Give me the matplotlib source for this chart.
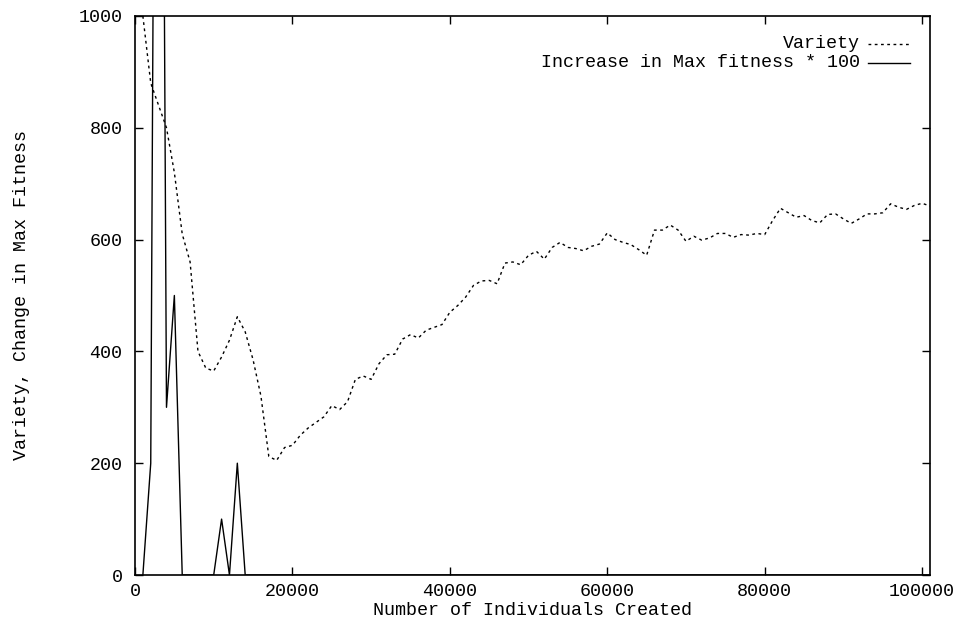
import matplotlib
matplotlib.use("Agg")
import matplotlib.pyplot as plt

# sampling grid: one point every 1000 individuals
individuals = list(range(1000, 102000, 1000))

variety = [
    1000, 880, 840, 800, 720, 610, 560, 400, 370, 365,
    390, 420, 462, 435, 385, 320, 212, 205, 228, 232,
    250, 263, 273, 283, 303, 296, 310, 350, 356, 350,
    378, 394, 395, 422, 430, 424, 438, 443, 448, 470,
    482, 497, 518, 526, 527, 521, 558, 560, 555, 572,
    579, 565, 586, 595, 586, 584, 580, 588, 592, 612,
    600, 595, 591, 582, 572, 617, 617, 626, 617, 597,
    606, 599, 603, 611, 611, 604, 609, 608, 611, 609,
    634, 656, 648, 640, 643, 634, 630, 645, 646, 637,
    629, 637, 646, 646, 648, 664, 658, 654, 661, 665,
    660,
]

# increase in max fitness * 100
fitness_gain = [
    0, 200, 3000, 300, 500, 0, 0, 0, 0, 0,
    100, 0, 200, 0, 0, 0, 0, 0, 0, 0,
    0, 0, 0, 0, 0, 0, 0, 0, 0, 0,
    0, 0, 0, 0, 0, 0, 0, 0, 0, 0,
    0, 0, 0, 0, 0, 0, 0, 0, 0, 0,
    0, 0, 0, 0, 0, 0, 0, 0, 0, 0,
    0, 0, 0, 0, 0, 0, 0, 0, 0, 0,
    0, 0, 0, 0, 0, 0, 0, 0, 0, 0,
    0, 0, 0, 0, 0, 0, 0, 0, 0, 0,
    0, 0, 0, 0, 0, 0, 0, 0, 0, 0,
    0,
]

xticks = [0, 20000, 40000, 60000, 80000, 100000]
yticks = [0, 200, 400, 600, 800, 1000]

plt.rcParams["font.family"] = ["Liberation Mono", "DejaVu Sans Mono"]
plt.rcParams["font.size"] = 13.2

fig = plt.figure(figsize=(9.6, 6.26), dpi=100)
ax = fig.add_axes([135 / 960, 1 - 575 / 626, 795 / 960, 559 / 626])

dotted = (0, (2, 2.5))
ax.plot(individuals, variety, color="black", lw=1, linestyle=dotted)
ax.plot(individuals, fitness_gain, color="black", lw=1)

ax.set_xlim(0, 101000)
ax.set_ylim(0, 1000)
ax.set_xticks(xticks)
ax.set_yticks(yticks)
ax.tick_params(direction="in", length=6, width=1, top=True, right=True)
ax.tick_params(axis="x", pad=6)
ax.tick_params(axis="y", pad=9)
for s in ax.spines.values():
    s.set_linewidth(1.2)

ax.set_xlabel("Number of Individuals Created", labelpad=1)
ax.set_ylabel("Variety, Change in Max Fitness", labelpad=35)

# key in the top right corner, text right aligned before the sample
ax.text(0.912, 0.95, "Variety", transform=ax.transAxes, ha="right",
        va="center")
ax.plot([0.922, 0.975], [0.95, 0.95], transform=ax.transAxes,
        color="black", lw=1, linestyle=dotted)
ax.text(0.912, 0.916, "Increase in Max fitness * 100",
        transform=ax.transAxes, ha="right", va="center")
ax.plot([0.922, 0.975], [0.916, 0.916], transform=ax.transAxes,
        color="black", lw=1)

fig.savefig("out.png", dpi=100)
